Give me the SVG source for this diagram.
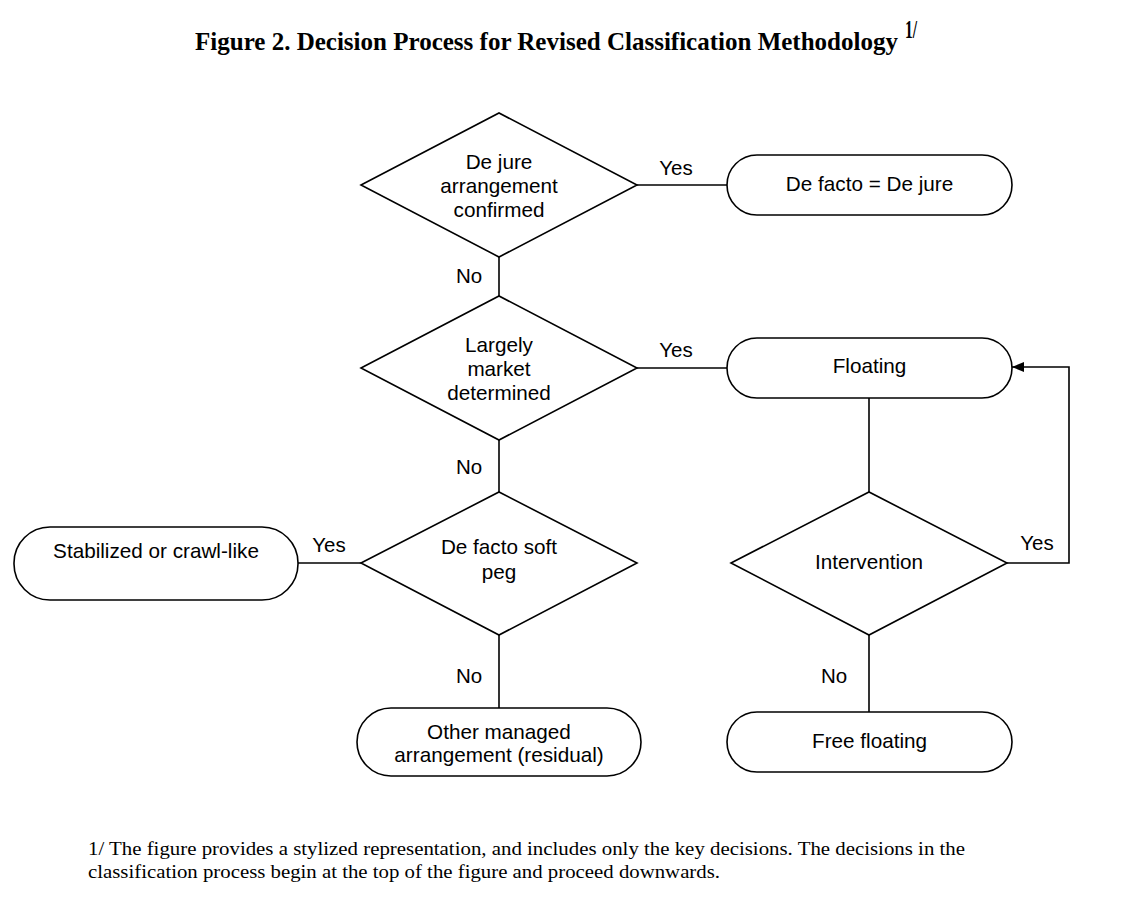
<svg xmlns="http://www.w3.org/2000/svg" width="1148" height="910" viewBox="0 0 1148 910">
<style>
.shape{fill:#fff;stroke:#000;stroke-width:1.6}
.ln{fill:none;stroke:#000;stroke-width:1.6}
.t{font-family:"Liberation Sans",Arial,sans-serif;font-size:20.7px;fill:#000;text-anchor:middle}
.lbl{font-family:"Liberation Sans",Arial,sans-serif;font-size:20.5px;fill:#000;text-anchor:middle}
.title{font-family:"Liberation Serif","Times New Roman",serif;font-weight:bold;font-size:25px;fill:#000}
.note{font-family:"Liberation Serif","Times New Roman",serif;font-size:19px;fill:#000}
</style>
<defs>
<marker id="arr" markerWidth="12" markerHeight="10" refX="12" refY="5" orient="auto" markerUnits="userSpaceOnUse">
<path d="M0,0 L12,5 L0,10 Z" fill="#000"/>
</marker>
</defs>
<rect width="1148" height="910" fill="#fff"/>
<text class="title" x="195" y="50" textLength="703" lengthAdjust="spacingAndGlyphs">Figure 2. Decision Process for Revised Classification Methodology</text>
<text class="title" x="905" y="38" font-size="13" textLength="12" lengthAdjust="spacingAndGlyphs">1/</text>

<g id="connectors">
<line class="ln" x1="637" y1="185" x2="727" y2="185"/>
<line class="ln" x1="499" y1="257" x2="499" y2="296"/>
<line class="ln" x1="637" y1="368" x2="727" y2="368"/>
<line class="ln" x1="499" y1="440" x2="499" y2="492"/>
<line class="ln" x1="361" y1="563" x2="298" y2="563"/>
<line class="ln" x1="499" y1="635" x2="499" y2="708"/>
<line class="ln" x1="869" y1="398" x2="869" y2="492"/>
<polyline class="ln" points="1007,563 1069,563 1069,367 1012,367" marker-end="url(#arr)"/>
<line class="ln" x1="869" y1="635" x2="869" y2="712"/>
<text class="lbl" x="676" y="175">Yes</text>
<text class="lbl" x="469" y="283">No</text>
<text class="lbl" x="676" y="357">Yes</text>
<text class="lbl" x="469" y="474">No</text>
<text class="lbl" x="329" y="552">Yes</text>
<text class="lbl" x="469" y="683">No</text>
<text class="lbl" x="1037" y="550">Yes</text>
<text class="lbl" x="834" y="683">No</text>
</g>

<g id="d1">
<polygon class="shape" points="361,185 499,113 637,185 499,257"/>
<text class="t" x="499" y="169">De jure</text>
<text class="t" x="499" y="193">arrangement</text>
<text class="t" x="499" y="217">confirmed</text>
</g>
<g id="t1">
<rect class="shape" x="727" y="155" width="285" height="60" rx="30" ry="30"/>
<text class="t" x="869.5" y="191">De facto = De jure</text>
</g>
<g id="d2">
<polygon class="shape" points="361,368 499,296 637,368 499,440"/>
<text class="t" x="499" y="352">Largely</text>
<text class="t" x="499" y="376">market</text>
<text class="t" x="499" y="400">determined</text>
</g>
<g id="t2">
<rect class="shape" x="727" y="338" width="285" height="60" rx="30" ry="30"/>
<text class="t" x="869.5" y="373">Floating</text>
</g>
<g id="d3">
<polygon class="shape" points="361,563 499,492 637,563 499,635"/>
<text class="t" x="499" y="554">De facto soft</text>
<text class="t" x="499" y="579">peg</text>
</g>
<g id="t3">
<rect class="shape" x="14" y="527" width="284" height="73" rx="36" ry="36"/>
<text class="t" x="156" y="558">Stabilized or crawl-like</text>
</g>
<g id="t4">
<rect class="shape" x="357" y="708" width="284" height="68" rx="34" ry="34"/>
<text class="t" x="499" y="739">Other managed</text>
<text class="t" x="499" y="762">arrangement (residual)</text>
</g>
<g id="d4">
<polygon class="shape" points="731,563 869,492 1007,563 869,635"/>
<text class="t" x="869" y="569">Intervention</text>
</g>
<g id="t5">
<rect class="shape" x="727" y="712" width="285" height="60" rx="30" ry="30"/>
<text class="t" x="869.5" y="748">Free floating</text>
</g>

<text class="note" x="88" y="855" textLength="877" lengthAdjust="spacingAndGlyphs">1/ The figure provides a stylized representation, and includes only the key decisions. The decisions in the</text>
<text class="note" x="88" y="878" textLength="632" lengthAdjust="spacingAndGlyphs">classification process begin at the top of the figure and proceed downwards.</text>
</svg>
